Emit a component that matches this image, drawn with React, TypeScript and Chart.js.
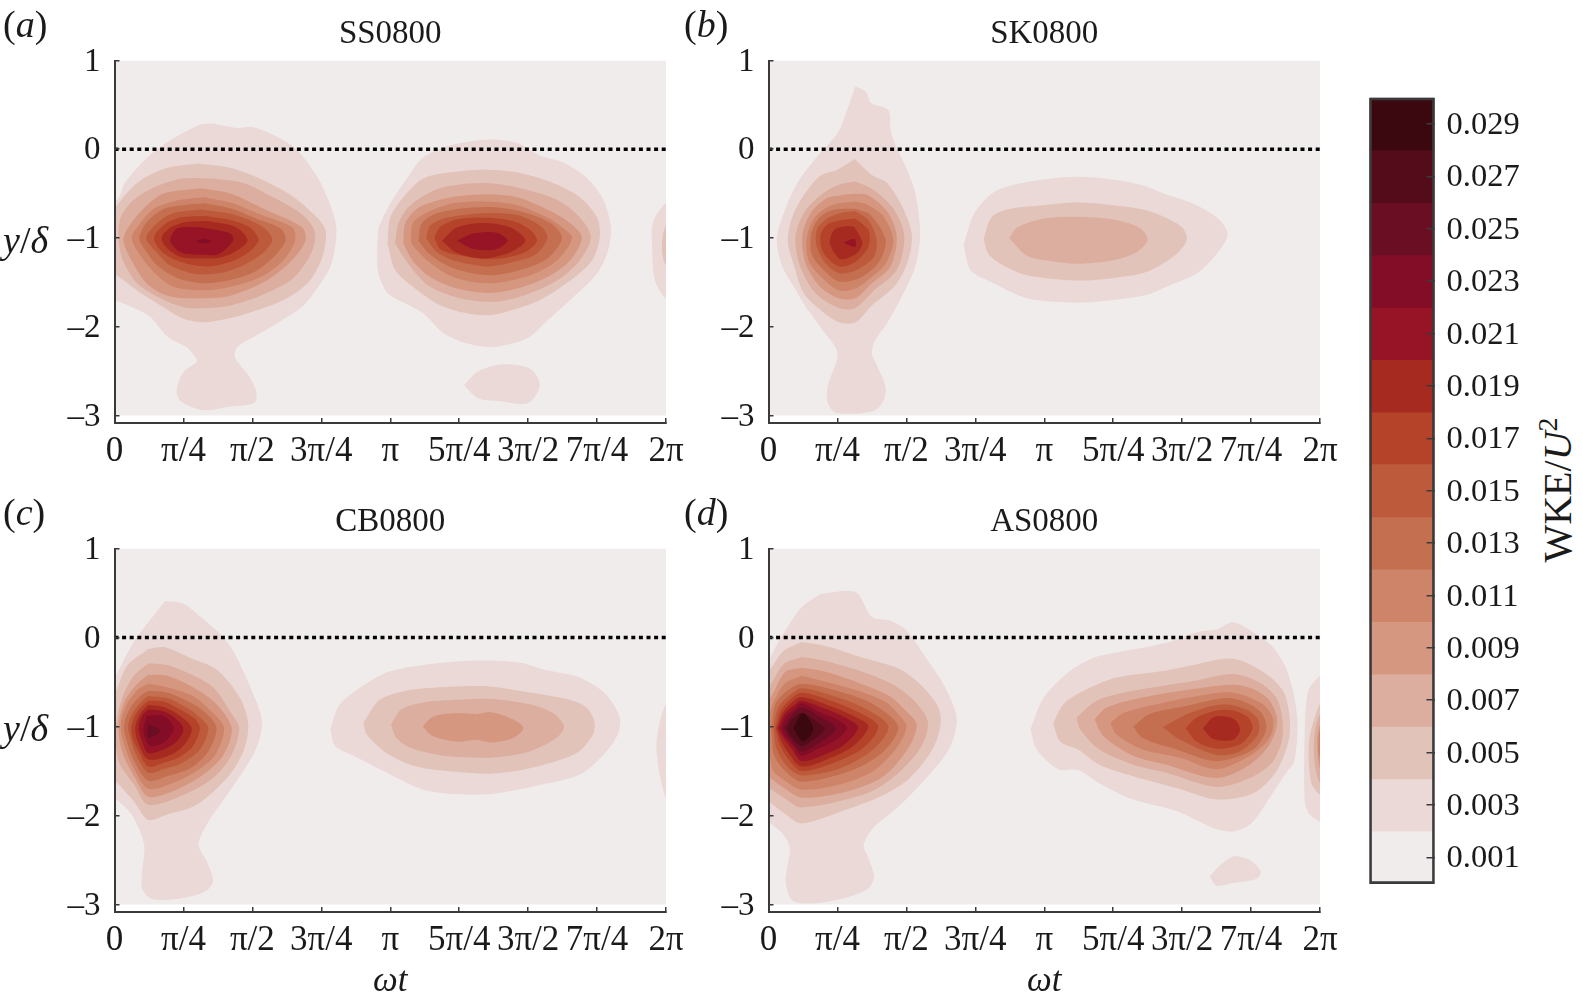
import React, { useEffect, useRef } from "react";
import { Chart, registerables } from "chart.js";

Chart.register(...registerables);

const FONT = '"Liberation Serif"';
const INK = "#1a1a1a";
const AXIS = "#3a3a3a";

// Colour of each contour band, lowest (0.001) to highest (0.029)
const bandColors = [
  "#f1ecec", "#ead9d6", "#e2c3b9", "#dcae9f", "#d59780", "#cd8469", "#c46f50", "#be5a3c",
  "#b5432a", "#a72a20", "#961426", "#830c26", "#6a0e24", "#540c1a", "#3c0810",
];
const bandLabels = [
  "0.001", "0.003", "0.005", "0.007", "0.009", "0.011", "0.013", "0.015",
  "0.017", "0.019", "0.021", "0.023", "0.025", "0.027", "0.029",
];
const bandEdges = [0, 0.002, 0.004, 0.006, 0.008, 0.01, 0.012, 0.014, 0.016, 0.018, 0.02, 0.022, 0.024, 0.026, 0.028, 0.03];

// Axes: x is in units of pi/4
const xTickLabels = ["0", "π/4", "π/2", "3π/4", "π", "5π/4", "3π/2", "7π/4", "2π"];
const xTickValues = [0, 1, 2, 3, 4, 5, 6, 7, 8];
const yTickValues = [-3, -2, -1, 0, 1];
const yTickLabels = ["–3", "–2", "–1", "0", "1"];
const domainRect = [0, -3, 8, -3, 8, 1, 0, 1];
const zeroLineX = [0, 8];
const zeroLineY = [0, 0];

// Contours: each entry is x,y,x,y... for the next band up, starting at 0.003
const ssFirstLobe: number[][] = [
  [1.43,.29,1.78,.24,2.0,.25,2.36,.14,2.65,-.01,2.94,-.31,3.1,-.57,3.2,-.8,3.22,-.91,3.2,-1.1,3.13,-1.33,2.99,-1.51,2.74,-1.76,2.36,-1.96,2.01,-2.12,1.78,-2.23,1.74,-2.33,1.8,-2.41,1.97,-2.58,2.06,-2.75,2.03,-2.86,1.68,-2.9,1.29,-2.94,.96,-2.84,.9,-2.72,1.0,-2.51,1.19,-2.4,1.19,-2.36,1.06,-2.24,.78,-2.12,.52,-1.89,.28,-1.79,.03,-1.71,-.05,-1.7,-.05,-.5,.04,-.57,.16,-.37,.48,-.09,.81,.1,1.06,.21,1.25,.28],
  [1.2,-.16,1.68,-.21,2.16,-.35,2.6,-.54,2.94,-.77,3.06,-.91,3.06,-1.06,2.99,-1.27,2.8,-1.51,2.45,-1.7,1.97,-1.84,1.58,-1.92,1.29,-1.95,1.0,-1.91,.67,-1.76,.38,-1.62,.03,-1.42,-.05,-1.4,-.05,-.75,.13,-.54,.38,-.35,.77,-.21],
  [1.43,-.33,1.87,-.38,2.3,-.54,2.7,-.72,2.88,-.88,2.91,-1.03,2.8,-1.25,2.55,-1.48,2.12,-1.65,1.68,-1.76,1.35,-1.79,1.0,-1.78,.67,-1.68,.33,-1.51,.12,-1.25,.06,-1.0,.09,-.77,.28,-.57,.57,-.43,.98,-.33],
  [1.25,-.44,1.68,-.5,2.16,-.67,2.72,-.88,2.77,-1.03,2.55,-1.27,2.16,-1.5,1.68,-1.65,1.29,-1.68,.81,-1.66,.49,-1.53,.26,-1.27,.13,-1.03,.2,-.88,.42,-.67,.71,-.5],
  [1.3,-.54,1.68,-.6,2.07,-.72,2.58,-.88,2.62,-1.03,2.45,-1.25,2.12,-1.44,1.68,-1.55,1.29,-1.59,.86,-1.55,.59,-1.4,.35,-1.17,.25,-1.0,.33,-.88,.57,-.67,.96,-.57],
  [1.3,-.61,1.7,-.67,2.05,-.78,2.42,-.9,2.48,-1.03,2.3,-1.22,2.01,-1.39,1.64,-1.48,1.29,-1.51,.91,-1.45,.62,-1.31,.45,-1.14,.36,-1.0,.47,-.82,.72,-.67,1.0,-.63],
  [1.25,-.68,1.7,-.73,2.05,-.83,2.22,-.92,2.29,-1.03,2.12,-1.19,1.83,-1.32,1.49,-1.4,1.14,-1.4,.81,-1.31,.62,-1.17,.46,-1.0,.62,-.83,.85,-.72],
  [1.3,-.75,1.7,-.8,1.95,-.87,2.03,-.93,2.09,-1.03,1.93,-1.17,1.68,-1.27,1.35,-1.32,1.0,-1.28,.71,-1.17,.57,-1.0,.72,-.85,.95,-.77],
  [1.35,-.81,1.7,-.86,1.85,-.93,1.93,-1.03,1.78,-1.14,1.54,-1.22,1.29,-1.23,.99,-1.22,.77,-1.12,.68,-1.0,.82,-.88,1.05,-.82],
  [1.25,-.88,1.68,-.95,1.72,-1.03,1.51,-1.18,1.25,-1.19,.96,-1.16,.81,-1.03,.91,-.89],
  [1.17,-1.04,1.29,-1.01,1.41,-1.04,1.28,-1.06],
];
const ssSecondLobe: number[][] = [
  [3.83,-.88,4.0,-.61,4.25,-.32,4.48,-.09,4.91,.05,5.45,.11,5.84,.07,6.17,-.07,6.51,-.15,6.86,-.33,7.09,-.57,7.2,-.88,7.16,-1.14,7.0,-1.4,6.65,-1.67,6.28,-1.93,5.99,-2.13,5.48,-2.23,5.12,-2.19,4.77,-2.07,4.48,-1.85,4.17,-1.72,3.96,-1.62,3.83,-1.4,3.81,-1.14],
  [3.96,-1.06,4.0,-.77,4.19,-.54,4.48,-.33,4.87,-.26,5.35,-.23,5.84,-.26,6.36,-.38,6.75,-.54,7.0,-.77,7.04,-.99,6.93,-1.25,6.61,-1.48,6.17,-1.7,5.78,-1.81,5.45,-1.87,5.06,-1.84,4.68,-1.74,4.33,-1.55,4.07,-1.36],
  [4.07,-1.06,4.12,-.83,4.29,-.63,4.72,-.44,5.3,-.38,5.78,-.42,6.42,-.57,6.75,-.77,6.91,-.99,6.75,-1.25,6.42,-1.48,5.93,-1.65,5.48,-1.72,4.97,-1.67,4.54,-1.53,4.25,-1.28],
  [4.19,-1.06,4.22,-.83,4.41,-.66,4.83,-.55,5.35,-.51,5.84,-.54,6.36,-.71,6.65,-.86,6.78,-1.0,6.61,-1.25,6.28,-1.44,5.84,-1.57,5.45,-1.62,4.97,-1.57,4.58,-1.44,4.32,-1.25],
  [4.3,-1.05,4.33,-.83,4.54,-.71,4.91,-.61,5.35,-.59,5.84,-.63,6.28,-.77,6.51,-.89,6.64,-1.0,6.42,-1.25,6.03,-1.42,5.45,-1.51,4.91,-1.44,4.58,-1.28,4.39,-1.14],
  [4.41,-1.03,4.46,-.83,4.72,-.71,5.35,-.65,5.84,-.69,6.32,-.83,6.49,-1.0,6.28,-1.23,5.88,-1.36,5.45,-1.42,4.91,-1.34,4.58,-1.19],
  [4.52,-1.0,4.58,-.86,4.83,-.77,5.35,-.72,5.84,-.74,6.17,-.86,6.28,-1.0,6.1,-1.19,5.74,-1.28,5.41,-1.32,4.91,-1.25,4.65,-1.14],
  [4.64,-1.0,4.72,-.88,4.97,-.79,5.35,-.77,5.78,-.81,6.03,-.91,6.13,-1.03,5.93,-1.17,5.45,-1.24,4.91,-1.18,4.72,-1.12],
  [4.75,-1.03,4.97,-.88,5.35,-.83,5.74,-.88,5.96,-1.03,5.74,-1.16,5.35,-1.23,4.97,-1.17],
  [4.97,-1.03,5.2,-.95,5.55,-.94,5.7,-1.03,5.52,-1.13,5.2,-1.12],
];
const ssEdge: number[][] = [
  [8.1,-.6,7.99,-.61,7.81,-.83,7.8,-1.14,7.84,-1.48,7.99,-1.68,8.1,-1.7],
  [8.1,-.85,7.99,-.87,7.94,-1.1,7.99,-1.3,8.1,-1.32],
];
const ssBlob: number[][] = [
  [5.07,-2.66,5.26,-2.51,5.55,-2.43,5.84,-2.43,6.06,-2.49,6.17,-2.66,6.0,-2.86,5.59,-2.84,5.28,-2.81],
];

const skFirstLobe: number[][] = [
  [1.26,.71,1.41,.65,1.49,.52,1.74,.44,1.77,.22,1.84,.05,2.01,-.23,2.13,-.5,2.2,-.95,2.13,-1.32,1.96,-1.62,1.72,-1.96,1.55,-2.15,1.5,-2.3,1.57,-2.43,1.7,-2.68,1.67,-2.83,1.55,-2.94,1.24,-2.98,.95,-2.96,.85,-2.83,.87,-2.64,.99,-2.38,.99,-2.26,.75,-2.0,.51,-1.74,.37,-1.55,.2,-1.32,.12,-1.02,.22,-.72,.42,-.38,.71,-.08,1.0,.18,1.14,.44],
  [1.25,-.11,1.5,-.29,1.72,-.38,1.96,-.68,2.08,-.98,2.01,-1.29,1.82,-1.55,1.5,-1.76,1.26,-1.95,1.02,-1.95,.75,-1.81,.51,-1.62,.39,-1.36,.28,-1.02,.39,-.68,.73,-.31,1.0,-.23],
  [1.26,-.36,1.53,-.46,1.82,-.68,1.97,-.98,1.86,-1.36,1.53,-1.59,1.26,-1.79,1.02,-1.79,.68,-1.62,.46,-1.32,.39,-1.0,.51,-.72,.75,-.52,1.02,-.4],
  [1.26,-.5,1.45,-.52,1.72,-.7,1.86,-.98,1.77,-1.32,1.5,-1.51,1.26,-1.68,1.02,-1.68,.75,-1.55,.54,-1.29,.49,-.98,.61,-.72,.85,-.55,1.04,-.52],
  [1.26,-.59,1.45,-.63,1.67,-.76,1.81,-1.02,1.7,-1.29,1.48,-1.45,1.26,-1.57,1.02,-1.59,.78,-1.45,.58,-1.25,.56,-.98,.68,-.76,.92,-.63],
  [1.26,-.67,1.48,-.74,1.7,-1.02,1.62,-1.25,1.43,-1.4,1.26,-1.47,1.02,-1.49,.8,-1.36,.63,-1.19,.62,-.95,.75,-.76,.97,-.68],
  [1.26,-.7,1.45,-.8,1.57,-1.02,1.53,-1.21,1.33,-1.34,1.04,-1.4,.83,-1.29,.7,-1.1,.7,-.91,.85,-.78,1.04,-.72],
  [1.26,-.78,1.45,-.91,1.45,-1.1,1.26,-1.27,1.02,-1.32,.8,-1.17,.75,-.98,.85,-.85,1.04,-.8],
  [1.24,-.87,1.36,-1.04,1.31,-1.15,1.14,-1.23,1.02,-1.23,.89,-1.06,.95,-.91,1.09,-.87],
  [1.09,-1.05,1.25,-1.01,1.26,-1.1,1.16,-1.08],
];
const skSecondLobe: number[][] = [
  [2.83,-1.08,2.93,-1.36,3.24,-1.5,3.75,-1.68,4.47,-1.73,5.0,-1.7,5.49,-1.64,5.83,-1.53,6.21,-1.4,6.5,-1.18,6.66,-.97,6.55,-.8,6.21,-.63,5.73,-.5,5.44,-.41,5.0,-.34,4.47,-.31,3.99,-.34,3.51,-.41,3.24,-.5,2.98,-.73],
  [3.12,-1.01,3.19,-1.18,3.41,-1.31,3.75,-1.42,4.47,-1.48,5.0,-1.45,5.49,-1.38,5.92,-1.18,6.07,-1.01,5.97,-.86,5.49,-.69,5.0,-.63,4.47,-.6,3.99,-.63,3.51,-.67,3.24,-.76],
  [3.49,-1.0,3.75,-1.2,4.09,-1.26,4.47,-1.29,5.0,-1.25,5.34,-1.16,5.5,-1.02,5.39,-.89,5.0,-.79,4.47,-.76,3.99,-.78,3.61,-.88],
];

const cbFirstLobe: number[][] = [
  [.73,.41,1.0,.38,1.24,.24,1.53,.04,1.72,-.15,1.97,-.56,2.14,-.94,2.06,-1.24,1.87,-1.5,1.63,-1.77,1.34,-2.1,1.22,-2.33,1.34,-2.52,1.43,-2.73,1.34,-2.84,1.1,-2.91,.76,-2.95,.52,-2.93,.4,-2.82,.4,-2.63,.43,-2.33,.25,-1.99,0,-1.8,-.05,-1.78,-.05,-.43,0,-.45,.15,-.23,.32,0,.49,.17],
  [.49,-.13,.73,-.11,1.1,-.23,1.48,-.36,1.82,-.68,1.94,-.98,1.87,-1.28,1.63,-1.58,1.19,-1.88,.76,-1.99,.49,-2.05,.28,-1.84,.06,-1.65,-.05,-1.55,-.05,-.62,0,-.64,.18,-.32],
  [.49,-.29,.76,-.31,1.1,-.41,1.43,-.56,1.7,-.86,1.81,-1.02,1.7,-1.32,1.43,-1.58,1.0,-1.77,.49,-1.88,.28,-1.65,.06,-1.39,.02,-1.02,.11,-.68,.28,-.43],
  [.49,-.42,.76,-.43,1.14,-.56,1.48,-.75,1.7,-1.02,1.58,-1.32,1.29,-1.54,.9,-1.71,.49,-1.79,.3,-1.58,.11,-1.28,.06,-.98,.15,-.71,.32,-.53],
  [.49,-.52,.76,-.56,1.14,-.66,1.43,-.85,1.59,-1.02,1.46,-1.32,1.19,-1.5,.83,-1.64,.49,-1.7,.28,-1.47,.14,-1.2,.09,-.98,.18,-.75,.35,-.58],
  [.49,-.6,.76,-.62,1.1,-.73,1.34,-.86,1.48,-1.02,1.36,-1.28,1.1,-1.47,.76,-1.56,.49,-1.61,.3,-1.41,.18,-1.17,.14,-.98,.23,-.79,.37,-.66],
  [.49,-.66,.76,-.68,1.05,-.79,1.24,-.9,1.36,-1.02,1.24,-1.26,.98,-1.41,.71,-1.48,.49,-1.52,.32,-1.33,.23,-1.13,.2,-.98,.28,-.83,.4,-.71],
  [.49,-.71,.71,-.72,1.0,-.83,1.17,-.92,1.24,-1.02,1.14,-1.22,.93,-1.35,.71,-1.41,.49,-1.45,.35,-1.28,.26,-1.13,.25,-.98,.35,-.81],
  [.49,-.76,.71,-.78,.95,-.88,1.12,-1.02,1.02,-1.2,.81,-1.32,.49,-1.37,.35,-1.2,.3,-1.02,.37,-.86],
  [.49,-.81,.71,-.83,.9,-.92,1.0,-1.03,.9,-1.17,.71,-1.26,.49,-1.3,.4,-1.17,.35,-1.02,.4,-.88],
  [.47,-.88,.71,-.88,.86,-1.02,.73,-1.17,.52,-1.22,.42,-1.05],
  [.49,-.97,.66,-1.05,.49,-1.13,.48,-1.03],
];
const cbSecondLobe: number[][] = [
  [3.13,-1.03,3.2,-1.22,3.47,-1.33,4.0,-1.54,4.48,-1.71,4.96,-1.76,5.47,-1.76,6.22,-1.65,6.75,-1.54,7.09,-1.32,7.3,-1.09,7.33,-.9,7.13,-.64,6.75,-.45,6.22,-.36,5.93,-.29,5.44,-.26,4.96,-.27,4.48,-.31,4.0,-.38,3.71,-.49,3.27,-.75],
  [3.61,-.96,3.66,-1.09,3.95,-1.3,4.38,-1.45,4.96,-1.51,5.47,-1.53,6.02,-1.47,6.7,-1.3,6.94,-1.09,6.96,-.94,6.85,-.79,6.65,-.71,6.12,-.63,5.44,-.55,4.96,-.55,4.29,-.59,3.85,-.7],
  [4.01,-.98,4.09,-1.13,4.29,-1.24,4.77,-1.33,5.2,-1.35,5.49,-1.35,6.02,-1.28,6.41,-1.13,6.52,-1.0,6.36,-.85,6.02,-.75,5.47,-.69,4.96,-.7,4.48,-.73,4.16,-.81],
  [4.47,-1.0,4.62,-1.11,4.98,-1.17,5.25,-1.15,5.47,-1.18,5.78,-1.13,5.93,-1.02,5.78,-.92,5.47,-.84,5.25,-.86,4.96,-.85,4.62,-.89],
];
const cbEdge: number[][] = [
  [8.1,-.73,8,-.75,7.91,-.95,7.86,-1.2,7.9,-1.5,8,-1.8,8.1,-1.82],
];

const asFirstLobe: number[][] = [
  [.75,.49,1.26,.51,1.5,.23,1.76,.19,2.0,.08,2.25,-.19,2.54,-.53,2.73,-.9,2.63,-1.24,2.29,-1.58,1.86,-1.92,1.52,-2.14,1.38,-2.33,1.45,-2.48,1.53,-2.69,1.45,-2.82,1.09,-2.93,.6,-2.99,.34,-2.95,.25,-2.74,.31,-2.37,.22,-2.22,0,-2.07,-.05,-2.05,-.05,-.24,0,-.26,.1,-.11,.27,.11,.48,.34],
  [.48,-.05,.8,-.09,1.38,-.23,1.86,-.34,2.15,-.49,2.44,-.75,2.5,-.94,2.39,-1.24,2.05,-1.58,1.67,-1.77,1.18,-1.92,.48,-2.09,.22,-1.97,0,-1.84,-.05,-1.82,-.05,-.36,0,-.38,.22,-.15],
  [.48,-.22,.8,-.26,1.38,-.39,1.81,-.53,2.1,-.7,2.31,-.94,2.22,-1.22,1.86,-1.54,1.43,-1.75,.48,-1.91,.22,-1.8,0,-1.69,-.05,-1.67,-.05,-.54,0,-.56,.22,-.3],
  [.48,-.34,.8,-.38,1.38,-.53,1.76,-.66,2.0,-.83,2.15,-.98,2.03,-1.24,1.67,-1.56,1.14,-1.73,.48,-1.8,.22,-1.69,.02,-1.58,-.05,-1.55,-.05,-.66,.02,-.68,.24,-.39],
  [.48,-.43,.89,-.51,1.38,-.62,1.71,-.73,1.88,-.86,2.0,-1.0,1.86,-1.24,1.52,-1.5,1.04,-1.65,.48,-1.71,.22,-1.6,.05,-1.47,.02,-.86,.22,-.53],
  [.04,-1.02,.1,-.75,.27,-.6,.48,-.52,.99,-.6,1.52,-.75,1.88,-1.0,1.67,-1.28,1.18,-1.5,.48,-1.62,.24,-1.5,.08,-1.32],
  [.07,-1.02,.14,-.79,.29,-.66,.48,-.57,.99,-.67,1.43,-.81,1.74,-1.0,1.52,-1.26,1.04,-1.47,.48,-1.55,.27,-1.45,.12,-1.26],
  [.1,-1.02,.17,-.83,.31,-.7,.48,-.62,.94,-.72,1.33,-.85,1.59,-1.0,1.38,-1.24,.94,-1.41,.48,-1.5,.29,-1.37,.16,-1.2],
  [.12,-1.02,.2,-.85,.34,-.73,.48,-.67,.89,-.77,1.23,-.88,1.45,-1.0,1.23,-1.22,.85,-1.37,.48,-1.45,.31,-1.32,.19,-1.17],
  [.14,-1.02,.23,-.86,.36,-.77,.48,-.71,.85,-.81,1.11,-.9,1.3,-1.01,1.11,-1.2,.8,-1.32,.48,-1.39,.34,-1.26,.22,-1.13],
  [.18,-1.02,.26,-.88,.39,-.8,.48,-.74,.77,-.85,.99,-.92,1.14,-1.02,.94,-1.17,.7,-1.26,.48,-1.33,.36,-1.22,.24,-1.11],
  [.22,-1.02,.31,-.9,.48,-.79,.72,-.88,.98,-1.02,.77,-1.17,.48,-1.28,.34,-1.17],
  [.26,-1.02,.34,-.92,.48,-.85,.65,-.92,.81,-1.03,.65,-1.15,.48,-1.22,.34,-1.13],
  [.36,-1.02,.5,-.85,.65,-1.03,.5,-1.17],
];
const asSecondLobe: number[][] = [
  [3.8,-1.03,3.89,-1.26,4.2,-1.48,4.49,-1.49,4.8,-1.64,5.29,-1.82,5.92,-1.95,6.45,-2.14,6.74,-2.18,7.0,-2.09,7.27,-1.8,7.51,-1.52,7.63,-1.39,7.67,-.9,7.54,-.41,7.32,-.11,7.03,.06,6.74,.17,6.5,.09,6.21,.06,5.77,-.06,5.05,-.17,4.71,-.23,4.37,-.38,3.99,-.68],
  [4.13,-.96,4.23,-1.17,4.49,-1.26,4.8,-1.43,5.29,-1.56,6.0,-1.71,6.5,-1.82,7.03,-1.75,7.37,-1.5,7.56,-1.09,7.49,-.64,7.22,-.41,6.74,-.24,6.21,-.3,5.77,-.37,5.05,-.45,4.57,-.6,4.28,-.75],
  [4.47,-.9,4.52,-1.03,4.8,-1.26,5.29,-1.43,5.77,-1.52,6.5,-1.68,6.98,-1.58,7.32,-1.39,7.46,-1.09,7.39,-.71,7.13,-.51,6.74,-.41,6.16,-.49,5.29,-.6,4.76,-.71],
  [4.73,-.92,4.86,-1.11,5.29,-1.33,5.77,-1.43,6.5,-1.58,6.98,-1.43,7.27,-1.2,7.38,-.94,7.27,-.71,7.03,-.58,6.74,-.53,6.16,-.58,5.39,-.68,4.9,-.79],
  [4.96,-.96,5.05,-1.09,5.43,-1.26,5.96,-1.35,6.5,-1.48,6.98,-1.33,7.27,-1.13,7.32,-.92,7.17,-.75,6.74,-.62,6.21,-.66,5.63,-.75,5.15,-.85],
  [5.29,-1.0,5.43,-1.13,5.92,-1.26,6.5,-1.39,7.03,-1.26,7.22,-1.03,7.15,-.85,6.93,-.73,6.64,-.68,6.06,-.77,5.53,-.86],
  [5.72,-1.01,5.97,-1.15,6.5,-1.32,6.84,-1.28,7.1,-1.09,7.1,-.92,6.93,-.81,6.59,-.75,6.11,-.85],
  [6.05,-1.02,6.21,-1.17,6.5,-1.25,6.84,-1.2,7.02,-1.03,6.96,-.9,6.74,-.82,6.5,-.82,6.21,-.9],
  [6.3,-1.02,6.45,-1.14,6.74,-1.15,6.84,-1.03,6.74,-.91,6.47,-.89],
];
const asEdge: number[][] = [
  [8.1,-.42,8,-.43,7.83,-.6,7.78,-1.02,7.78,-1.84,7.85,-1.99,8,-2.07,8.1,-2.08],
  [8.1,-.74,8,-.75,7.94,-.86,7.84,-1.17,7.87,-1.62,8,-1.77,8.1,-1.78],
  [8.1,-.85,8,-.86,7.92,-1.09,7.92,-1.39,8,-1.64,8.1,-1.65],
  [8.1,-.97,8,-.98,7.96,-1.17,8,-1.47,8.1,-1.48],
  [8.1,-1.04,8,-1.05,7.98,-1.2,8,-1.35,8.1,-1.36],
];
const asBlob: number[][] = [
  [6.4,-2.69,6.52,-2.58,6.74,-2.46,6.98,-2.5,7.14,-2.63,7.08,-2.71,6.74,-2.76,6.5,-2.79],
];

const panels = [
  { title: "SS0800", tag: "a", left: 0, top: 0, height: 484, axisH: 61, groups: [ssFirstLobe, ssSecondLobe, ssEdge, ssBlob], xTitle: false, yLabel: true },
  { title: "SK0800", tag: "b", left: 654, top: 0, height: 484, axisH: 61, groups: [skFirstLobe, skSecondLobe], xTitle: false, yLabel: false },
  { title: "CB0800", tag: "c", left: 0, top: 487.5, height: 515, axisH: 91, groups: [cbFirstLobe, cbSecondLobe, cbEdge], xTitle: true, yLabel: true },
  { title: "AS0800", tag: "d", left: 654, top: 487.5, height: 515, axisH: 91, groups: [asFirstLobe, asSecondLobe, asEdge, asBlob], xTitle: true, yLabel: false },
];

const toPoints = (flat: number[]) => {
  const pts: { x: number; y: number }[] = [];
  for (let i = 0; i < flat.length; i += 2) pts.push({ x: flat[i], y: flat[i + 1] });
  pts.push({ x: flat[0], y: flat[1] });
  return pts;
};

const polygon = (flat: number[], level: number, tension: number) => ({
  data: toPoints(flat),
  showLine: true,
  fill: "shape",
  tension,
  backgroundColor: bandColors[level],
  borderColor: "transparent",
  borderWidth: 0,
  pointRadius: 0,
  order: -level,
});

function Panel({ cfg }: { cfg: (typeof panels)[number] }) {
  const ref = useRef<HTMLCanvasElement>(null);
  useEffect(() => {
    const datasets: any[] = [polygon(domainRect, 0, 0)];
    cfg.groups.forEach((group) => group.forEach((flat, i) => datasets.push(polygon(flat, i + 1, 0.3))));
    datasets.push({
      data: zeroLineX.map((x, i) => ({ x, y: zeroLineY[i] })),
      showLine: true,
      fill: false,
      borderColor: "#000",
      borderWidth: 3.6,
      borderDash: [4, 3.6],
      pointRadius: 0,
      order: -100,
    });
    const chart = new Chart(ref.current!, {
      type: "scatter",
      data: { datasets },
      options: {
        animation: false,
        responsive: false,
        events: [],
        layout: { padding: { right: 36 } },
        plugins: {
          legend: { display: false },
          tooltip: { enabled: false },
          title: {
            display: true,
            text: cfg.title,
            fullSize: false,
            color: INK,
            font: { family: FONT, size: 33, weight: "normal", lineHeight: 1.2 },
            padding: { top: 15, bottom: 5.9 },
          },
        },
        scales: {
          x: {
            type: "linear",
            min: 0,
            max: 8,
            afterFit: (s: any) => { s.height = cfg.axisH; },
            afterBuildTicks: (s: any) => { s.ticks = xTickValues.map((value) => ({ value })); },
            border: { color: AXIS, width: 2, z: 2 },
            grid: { drawOnChartArea: false, color: AXIS, lineWidth: 1.5, tickLength: -5, z: 1 },
            ticks: {
              autoSkip: false,
              maxRotation: 0,
              padding: 13,
              color: INK,
              font: { family: FONT, size: 35 },
              callback: (_v: any, i: number) => xTickLabels[i],
            },
            title: {
              display: cfg.xTitle,
              text: "ωt",
              color: INK,
              padding: 0,
              font: { family: FONT, size: 35, style: "italic", weight: "normal", lineHeight: 1.2 },
            },
          },
          y: {
            type: "linear",
            min: -3.085,
            max: 1,
            afterFit: (s: any) => { s.width = 114.5; },
            afterBuildTicks: (s: any) => { s.ticks = yTickValues.map((value) => ({ value })); },
            border: { color: AXIS, width: 2, z: 2 },
            grid: { drawOnChartArea: false, color: AXIS, lineWidth: 1.5, tickLength: -5, z: 1 },
            ticks: {
              padding: 19,
              labelOffset: 1.5,
              color: INK,
              font: { family: FONT, size: 33 },
              callback: (_v: any, i: number) => yTickLabels[i],
            },
          },
        },
      } as any,
    });
    return () => chart.destroy();
  }, [cfg]);
  return (
    <canvas
      ref={ref}
      width={702}
      height={cfg.height}
      style={{ position: "absolute", left: cfg.left, top: cfg.top, display: "block" }}
    />
  );
}

function ColorBar() {
  const ref = useRef<HTMLCanvasElement>(null);
  useEffect(() => {
    const datasets: any[] = bandColors.map((color, i) => ({
      data: [[bandEdges[i], bandEdges[i + 1]]],
      backgroundColor: color,
      grouped: false,
      barPercentage: 1,
      categoryPercentage: 1,
      borderWidth: 0,
      order: 20 - i,
    }));
    datasets.push({
      data: [[bandEdges[0], bandEdges[bandEdges.length - 1]]],
      backgroundColor: "transparent",
      borderColor: "#3a3a3a",
      borderWidth: 2,
      borderSkipped: false,
      grouped: false,
      barPercentage: 1,
      categoryPercentage: 1,
      order: -1,
      clip: false,
    });
    const chart = new Chart(ref.current!, {
      type: "bar",
      data: { labels: ["WKE"], datasets },
      options: {
        animation: false,
        responsive: false,
        events: [],
        layout: { padding: { left: 9.5, top: 7.8, bottom: 6.4 } },
        plugins: { legend: { display: false }, tooltip: { enabled: false } },
        scales: {
          x: { display: false },
          y: {
            position: "right",
            min: 0,
            max: 0.03,
            afterFit: (s: any) => { s.width = 95.5; s.paddingTop = 0; s.paddingBottom = 0; },
            afterBuildTicks: (s: any) => { s.ticks = bandLabels.map((l) => ({ value: Number(l) })); },
            border: { display: false },
            grid: { drawOnChartArea: false, color: AXIS, lineWidth: 1.5, tickLength: -8, z: 1 },
            ticks: {
              padding: 20,
              labelOffset: 1.5,
              color: INK,
              font: { family: FONT, size: 32.5 },
              callback: (_v: any, i: number) => bandLabels[i],
            },
          },
        },
      } as any,
    });
    return () => chart.destroy();
  }, []);
  return (
    <canvas
      ref={ref}
      width={170}
      height={800}
      style={{ position: "absolute", left: 1360, top: 90, display: "block" }}
    />
  );
}

const tagStyle = (left: number, top: number): React.CSSProperties => ({
  position: "absolute",
  left,
  top,
  fontFamily: FONT,
  fontSize: 38,
  lineHeight: "44px",
  color: INK,
  whiteSpace: "nowrap",
});

export default function App() {
  return (
    <div
      style={{
        position: "absolute",
        left: 0,
        top: 0,
        width: 1583,
        height: 1003,
        background: "#fff",
        overflow: "hidden",
      }}
    >
      {panels.map((p) => (
        <Panel key={p.title} cfg={p} />
      ))}
      <ColorBar />
      {panels.map((p) => (
        <div key={p.tag} style={tagStyle(p.left === 0 ? 3 : 684, p.top + 2)}>
          (<i>{p.tag}</i>)
        </div>
      ))}
      {panels.filter((p) => p.yLabel).map((p) => (
        <div key={p.tag + "y"} style={tagStyle(3, p.top + 218)}>
          <i>y</i>/<i>δ</i>
        </div>
      ))}
      <div
        style={{
          position: "absolute",
          left: 1558,
          top: 490,
          transform: "translate(-50%, -50%) rotate(-90deg)",
          fontFamily: FONT,
          fontSize: 40,
          color: INK,
          whiteSpace: "nowrap",
          lineHeight: 1,
        }}
      >
        WKE/<i>U</i>
        <sup style={{ fontSize: 28, lineHeight: 0 }}>2</sup>
      </div>
    </div>
  );
}
